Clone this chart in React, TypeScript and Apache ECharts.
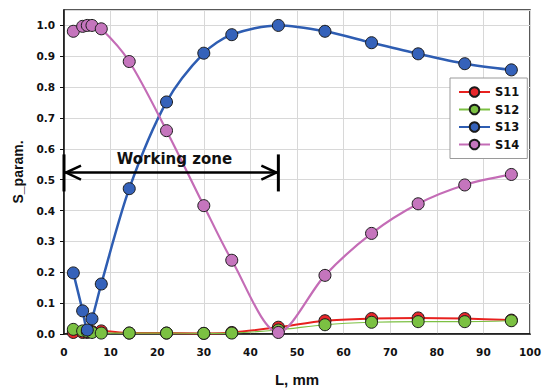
import React, { useEffect, useRef } from "react";
import * as echarts from "echarts";

const xValues = [2, 4, 5, 6, 8, 14, 22, 30, 36, 46, 56, 66, 76, 86, 96];
const s11 = [0.005, 0.005, 0.005, 0.008, 0.01, 0.003, 0.003, 0.002, 0.005, 0.022, 0.043, 0.05, 0.052, 0.05, 0.045];
const s12 = [0.015, 0.01, 0.008, 0.005, 0.003, 0.003, 0.003, 0.002, 0.003, 0.013, 0.03, 0.038, 0.04, 0.04, 0.043];
const s13 = [0.198, 0.075, 0.013, 0.049, 0.162, 0.471, 0.752, 0.91, 0.97, 1.0, 0.981, 0.944, 0.908, 0.876, 0.856];
const s14 = [0.981, 0.997, 1.0, 1.0, 0.989, 0.883, 0.659, 0.416, 0.239, 0.005, 0.19, 0.326, 0.422, 0.483, 0.517];

const seriesNames = ["S11", "S12", "S13", "S14"];
const lineColors = ["#e8211f", "#7cc043", "#2e5db2", "#c46cb6"];
const markerColors = ["#e8262b", "#7bc142", "#3562ba", "#c575bd"];
const lineWidths = [2, 1.2, 2.5, 2.2];

const zoneStart = 0;
const zoneEnd = 46;
const zoneY = 0.523;
const zoneBarTop = 0.582;
const zoneBarBottom = 0.462;
const zoneLabel = "Working zone";
const zoneLabelX = 23.7;
const zoneLabelY = 0.568;

export default function App() {
  const ref = useRef<HTMLDivElement>(null);
  useEffect(() => {
    if (!ref.current) return;
    const chart = echarts.init(ref.current, null, { renderer: "svg" });
    const all = [s11, s12, s13, s14];
    const lineSeries = all.map((vals, i) => ({
      name: seriesNames[i],
      type: "line",
      data: vals.map((v, j) => [xValues[j], v]),
      smooth: 0.3,
      symbol: "circle",
      symbolSize: 12,
      z: 3 + i,
      lineStyle: { color: lineColors[i], width: lineWidths[i] },
      itemStyle: { color: markerColors[i], borderColor: "#1a1a1a", borderWidth: 1 },
      emphasis: { disabled: true },
    }));
    const option: any = {
      animation: false,
      backgroundColor: "#ffffff",
      grid: {
        left: 64,
        right: 13,
        top: 10,
        bottom: 54,
        containLabel: false,
        outerBoundsMode: "none",
        show: true,
        borderColor: "#222",
        borderWidth: 1.5,
      },
      legend: {
        data: seriesNames,
        orient: "vertical",
        left: 450,
        top: 78,
        width: 77,
        padding: [8, 8, 8, 8],
        itemWidth: 31,
        itemHeight: 12,
        itemGap: 5.5,
        backgroundColor: "#ffffff",
        borderColor: "#9a9a9a",
        borderWidth: 1,
        textStyle: { fontFamily: "DejaVu Sans", fontWeight: "bold", fontSize: 11.5, color: "#111" },
      },
      xAxis: {
        type: "value",
        min: 0,
        max: 100,
        interval: 10,
        name: "L, mm",
        nameLocation: "middle",
        nameGap: 38,
        nameTextStyle: { fontFamily: "Liberation Sans", fontWeight: "bold", fontSize: 15, color: "#111" },
        axisLine: { lineStyle: { color: "#111", width: 1.5 } },
        axisTick: { show: false },
        axisLabel: { fontFamily: "DejaVu Sans", fontWeight: "bold", fontSize: 10.5, color: "#111", margin: 12 },
        splitLine: { lineStyle: { color: "#d8d8d8", width: 1 } },
      },
      yAxis: {
        type: "value",
        min: 0,
        max: 1.05,
        interval: 0.1,
        name: "S_param.",
        nameLocation: "middle",
        nameGap: 36,
        nameTextStyle: { fontFamily: "Liberation Sans", fontWeight: "bold", fontSize: 14, color: "#111" },
        axisLine: { show: true, lineStyle: { color: "#111", width: 1.5 } },
        axisTick: { show: true, inside: false, length: 4, lineStyle: { color: "#111" } },
        axisLabel: {
          fontFamily: "DejaVu Sans",
          fontWeight: "bold",
          fontSize: 10.5,
          color: "#111",
          margin: 9,
          showMaxLabel: false,
          formatter: (v: number) => (Math.abs(v * 10 - Math.round(v * 10)) < 1e-6 ? v.toFixed(1) : ""),
        },
        splitLine: { lineStyle: { color: "#d8d8d8", width: 1 } },
      },
      series: [
        ...lineSeries,
        {
          type: "custom",
          name: "zone",
          z: 10,
          silent: true,
          clip: false,
          data: [[zoneStart, zoneY]],
          renderItem: (params: any, api: any) => {
            const p0 = api.coord([zoneStart, zoneY]);
            const p1 = api.coord([zoneEnd, zoneY]);
            const yt = api.coord([zoneStart, zoneBarTop])[1];
            const yb = api.coord([zoneStart, zoneBarBottom])[1];
            const t = api.coord([zoneLabelX, zoneLabelY]);
            const st = { stroke: "#000", lineWidth: 2.5, fill: "none" };
            return {
              type: "group",
              children: [
                { type: "line", shape: { x1: p0[0], y1: p0[1], x2: p1[0], y2: p1[1] }, style: st },
                { type: "line", shape: { x1: p0[0], y1: yt, x2: p0[0], y2: yb }, style: { stroke: "#000", lineWidth: 3 } },
                { type: "line", shape: { x1: p1[0], y1: yt, x2: p1[0], y2: yb }, style: { stroke: "#000", lineWidth: 3 } },
                {
                  type: "polyline",
                  shape: { points: [[p0[0] + 17, p0[1] - 7], [p0[0] + 2, p0[1]], [p0[0] + 17, p0[1] + 7]] },
                  style: st,
                },
                {
                  type: "polyline",
                  shape: { points: [[p1[0] - 17, p1[1] - 7], [p1[0] - 2, p1[1]], [p1[0] - 17, p1[1] + 7]] },
                  style: st,
                },
                {
                  type: "text",
                  x: t[0],
                  y: t[1],
                  style: {
                    text: zoneLabel,
                    fontFamily: "DejaVu Sans",
                    fontWeight: "bold",
                    fontSize: 15,
                    fill: "#111",
                    align: "center",
                    verticalAlign: "middle",
                  },
                },
              ],
            };
          },
        },
      ],
    };
    chart.setOption(option);
    return () => chart.dispose();
  }, []);
  return (
    <div
      ref={ref}
      style={{ position: "fixed", left: 0, top: 0, width: 543, height: 388, background: "#fff" }}
    />
  );
}
